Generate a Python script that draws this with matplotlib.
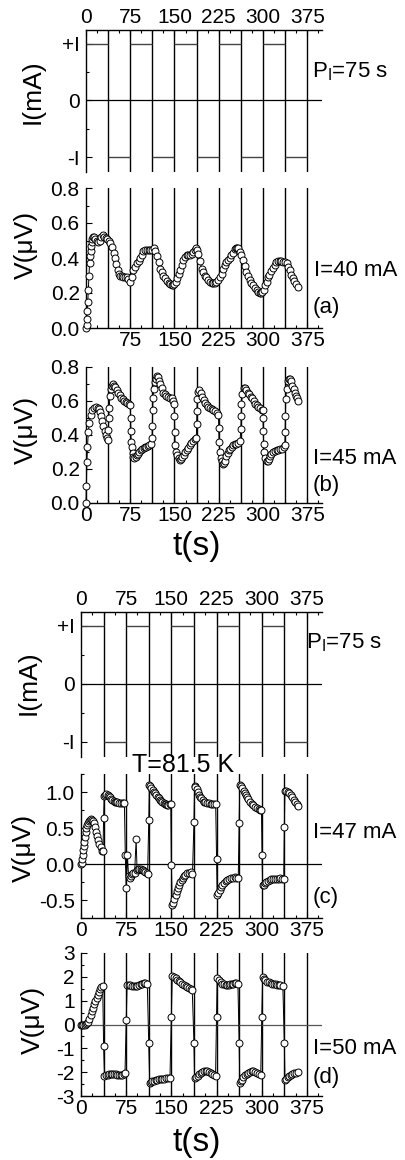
import matplotlib.pyplot as plt
from matplotlib.ticker import MultipleLocator, FixedLocator

plt.rcParams['font.family'] = ['Liberation Sans', 'DejaVu Sans']
plt.rcParams['mathtext.default'] = 'regular'
plt.rcParams['axes.unicode_minus'] = False

# current switching times (half period 37.5 s) and sign of the current
switch_t = [0, 37.5, 75, 112.5, 150, 187.5, 225, 262.5, 300, 337.5, 375]
current_sign = [1, -1, 1, -1, 1, -1, 1, -1, 1, -1]
x_ticks = [0, 75, 150, 225, 300, 375]

# (a) I = 40 mA
t_a = [0, 1, 1.5, 2, 3, 4, 5, 6, 7, 8, 9, 10, 11, 12, 14, 16, 18.5, 21, 23.5, 26, 28.5, 31, 33.5, 36,
       38.5, 41, 44, 47, 49.5, 51.5, 53.5, 56, 58, 61, 63.5, 66.5, 69, 72, 75, 78, 80.5, 83, 86, 89,
       92, 94.5, 97, 100, 103, 106, 109, 112, 115, 117.5, 120, 123, 125.5, 128, 131, 134, 137, 140,
       143, 145, 148, 150, 152.5, 155, 157, 159, 162, 165, 168, 170.5, 173, 176, 179, 182, 184,
       186.5, 188.5, 190.5, 193, 196, 198.5, 201.5, 204, 207, 210, 213, 216, 218.5, 221, 224, 227,
       230, 232.5, 235, 238, 241, 244, 246.5, 249.5, 252, 254, 256, 258, 260.5, 263, 266, 269, 272,
       275, 277.5, 280, 283, 286, 289, 292, 294.5, 297, 299, 301, 303, 306, 308.5, 311, 314, 317,
       320, 322.5, 325, 328, 331, 334, 337, 340.5, 343, 345, 348, 350.5, 353, 356, 359]
v_a = [0.0, 0.02, 0.05, 0.10, 0.15, 0.22, 0.30, 0.37, 0.41, 0.44, 0.47, 0.49, 0.51, 0.52, 0.52, 0.51,
       0.50, 0.49, 0.50, 0.52, 0.53, 0.52, 0.515, 0.51, 0.50, 0.485, 0.465, 0.43, 0.40, 0.365, 0.33,
       0.31, 0.30, 0.295, 0.29, 0.29, 0.29, 0.28, 0.265, 0.29, 0.33, 0.35, 0.37, 0.385, 0.40, 0.42,
       0.44, 0.445, 0.445, 0.445, 0.445, 0.445, 0.455, 0.44, 0.41, 0.375, 0.34, 0.32, 0.30, 0.285,
       0.27, 0.26, 0.25, 0.245, 0.245, 0.25, 0.265, 0.285, 0.31, 0.33, 0.36, 0.39, 0.405, 0.415,
       0.415, 0.42, 0.425, 0.435, 0.445, 0.455, 0.445, 0.425, 0.385, 0.34, 0.32, 0.30, 0.29, 0.275,
       0.265, 0.255, 0.255, 0.26, 0.265, 0.275, 0.29, 0.31, 0.335, 0.36, 0.375, 0.39, 0.40, 0.415,
       0.43, 0.45, 0.455, 0.46, 0.455, 0.435, 0.415, 0.39, 0.355, 0.32, 0.295, 0.275, 0.26, 0.245,
       0.23, 0.217, 0.205, 0.198, 0.20, 0.204, 0.22, 0.245, 0.265, 0.29, 0.305, 0.325, 0.345, 0.36,
       0.375, 0.385, 0.385, 0.385, 0.38, 0.38, 0.37, 0.35, 0.33, 0.305, 0.285, 0.27, 0.25, 0.236]

# (b) I = 45 mA
t_b = [0, 0.5, 1.5, 2.5, 4, 5.5, 8, 11, 14, 17, 19.5, 21.5, 23.5, 25.5, 27.5, 29.5, 31.5, 33.5, 35.5,
       37, 38, 38.5, 39.5, 40.5, 42, 44, 46, 48, 50, 52.5, 55, 57.5, 60, 62.5, 65, 67.5, 70, 72.5, 75,
       75.5, 76, 76.5, 77.5, 79, 80.5, 82, 84, 86, 88, 90, 92.5, 95, 97.5, 100, 102.5, 105, 107.5,
       110, 112, 112.5, 113, 113.5, 115, 116.5, 118, 120, 122, 124, 126, 128.5, 131, 133.5, 136, 139,
       142, 145, 148, 149.5, 150, 150.5, 151, 152.5, 154.5, 157, 159, 161, 163.5, 166, 168.5, 171,
       173.5, 176, 178.5, 181, 184, 187, 187.5, 188, 188.5, 190, 192, 194.5, 197, 199.5, 202, 204.5,
       207, 210, 213, 216, 219, 222, 224.5, 225, 225.5, 226.5, 228, 230, 232, 234, 236, 238, 240,
       242, 244.5, 247, 249.5, 252, 255, 258, 261, 262.5, 263, 263.5, 265, 267, 269.5, 272, 274.5,
       277, 279.5, 282, 284.5, 287, 289.5, 292, 295, 298, 299.5, 300, 300.5, 301, 302, 304, 306, 308,
       310, 312, 314, 317, 320, 323, 326, 329, 332, 335, 337, 337.5, 338, 338.5, 340, 342, 344, 346,
       348, 350, 352, 354, 356, 358, 360]
v_b = [0.0, 0.10, 0.24, 0.33, 0.42, 0.47, 0.52, 0.55, 0.56, 0.565, 0.56, 0.555, 0.535, 0.51, 0.485,
       0.455, 0.425, 0.40, 0.385, 0.37, 0.43, 0.50, 0.56, 0.63, 0.67, 0.69, 0.70, 0.69, 0.68, 0.665,
       0.65, 0.635, 0.62, 0.61, 0.60, 0.595, 0.59, 0.585, 0.575, 0.50, 0.425, 0.36, 0.33, 0.295, 0.27,
       0.265, 0.27, 0.28, 0.29, 0.30, 0.31, 0.32, 0.325, 0.33, 0.33, 0.335, 0.34, 0.35, 0.385, 0.455,
       0.55, 0.62, 0.67, 0.71, 0.73, 0.745, 0.74, 0.72, 0.70, 0.675, 0.65, 0.64, 0.63, 0.625, 0.62,
       0.615, 0.60, 0.585, 0.51, 0.415, 0.34, 0.30, 0.28, 0.265, 0.255, 0.26, 0.27, 0.285, 0.30, 0.31,
       0.325, 0.34, 0.355, 0.365, 0.375, 0.385, 0.465, 0.54, 0.61, 0.655, 0.665, 0.65, 0.625, 0.605,
       0.59, 0.575, 0.565, 0.56, 0.555, 0.55, 0.54, 0.53, 0.52, 0.44, 0.36, 0.30, 0.265, 0.245, 0.23,
       0.235, 0.25, 0.275, 0.295, 0.31, 0.32, 0.33, 0.34, 0.345, 0.35, 0.355, 0.365, 0.435, 0.51,
       0.58, 0.64, 0.675, 0.675, 0.665, 0.65, 0.64, 0.625, 0.615, 0.60, 0.585, 0.575, 0.565, 0.56,
       0.55, 0.545, 0.50, 0.425, 0.35, 0.30, 0.265, 0.245, 0.25, 0.26, 0.275, 0.29, 0.30, 0.305, 0.31,
       0.31, 0.315, 0.32, 0.33, 0.34, 0.415, 0.51, 0.61, 0.67, 0.715, 0.73, 0.73, 0.715, 0.69, 0.67,
       0.65, 0.63, 0.615, 0.60]

# (c) I = 47 mA
t_c = [0, 1, 2, 2.5, 3.2, 4.3, 5.4, 6.5, 7.6, 9, 10.5, 12, 13.5, 15, 17, 18.5, 20, 21.5, 23, 24.8,
       26.4, 28, 30.3, 32.5, 35.3, 36.5, 37.5, 38.5, 40, 42, 44, 46, 48, 50, 52, 54, 56, 58, 60, 63,
       66, 69, 72, 73.5, 75, 77, 79, 81, 83, 85, 87, 89, 91.5, 93, 95, 97, 99, 101, 103, 105, 107,
       109, 110.5, 112.5, 113.5, 115, 117, 119, 121, 123, 125, 127, 129, 131, 133, 135, 137, 139,
       141, 143, 145, 147, 149, 150, 151.5, 153, 155, 157, 159, 161, 163, 165, 167, 169, 171, 173,
       176, 179, 182, 185, 187.5, 188.5, 190, 192, 194, 196, 198, 200, 202, 204, 206, 209, 212, 215,
       218, 221, 223.5, 225, 226, 228, 230, 232, 234, 237, 240, 243, 246, 249, 252, 255, 258, 261,
       262.5, 263.5, 265.5, 268, 270, 272, 274, 276, 278, 280.5, 283, 286, 289, 292, 295, 297.5,
       299.5, 300.5, 301.5, 303, 305, 307.5, 310, 313, 316, 319, 322, 325, 328, 331, 334, 336.5,
       337.5, 338.5, 340.5, 343, 345.5, 348, 350.5, 353, 355.5, 358, 360.5]
v_c = [0.0, 0.01, 0.065, 0.125, 0.195, 0.25, 0.31, 0.38, 0.45, 0.50, 0.54, 0.575, 0.60, 0.61, 0.62,
       0.61, 0.60, 0.565, 0.51, 0.45, 0.39, 0.335, 0.28, 0.23, 0.185, 0.18, 0.64, 0.945, 0.96, 0.97,
       0.965, 0.945, 0.925, 0.90, 0.89, 0.875, 0.865, 0.86, 0.855, 0.85, 0.85, 0.85, 0.85, 0.12,
       -0.34, 0.12, -0.17, -0.19, -0.16, -0.14, -0.13, -0.13, 0.35, -0.08, -0.07, -0.065, -0.07,
       -0.08, -0.09, -0.10, -0.11, -0.13, -0.14, 0.61, 1.10, 1.09, 1.06, 1.03, 1.00, 0.98, 0.955,
       0.93, 0.91, 0.89, 0.87, 0.855, 0.845, 0.835, 0.83, 0.825, 0.825, 0.83, 0.83, -0.01, -0.57,
       -0.54, -0.49, -0.43, -0.38, -0.33, -0.29, -0.25, -0.22, -0.19, -0.17, -0.15, -0.13, -0.12,
       -0.11, -0.14, 0.59, 1.08, 1.065, 1.04, 1.00, 0.96, 0.93, 0.91, 0.885, 0.865, 0.855, 0.85,
       0.845, 0.84, 0.84, 0.835, 0.83, 0.065, -0.43, -0.40, -0.36, -0.315, -0.29, -0.26, -0.24,
       -0.22, -0.21, -0.20, -0.19, -0.185, -0.19, -0.20, 0.565, 1.10, 1.08, 1.05, 1.02, 0.99, 0.96,
       0.935, 0.90, 0.865, 0.84, 0.82, 0.795, 0.775, 0.765, 0.755, 0.75, 0.125, -0.29, -0.29, -0.27,
       -0.25, -0.23, -0.22, -0.215, -0.21, -0.21, -0.21, -0.205, -0.20, -0.21, -0.215, 0.52, 1.02,
       1.01, 1.005, 0.985, 0.96, 0.93, 0.895, 0.86, 0.83, 0.80]

# (d) I = 50 mA
t_d = [0, 2, 4, 6, 8, 10, 12, 14, 16, 18, 20, 22, 24, 26, 28, 30, 32, 34, 36, 37.5, 39, 41.5, 44,
       46.5, 49, 52, 55, 57.5, 60, 63, 66, 68.5, 71, 73, 75, 76.5, 79, 82, 85, 87.8, 90.5, 93.3, 96,
       98.8, 101.5, 104.4, 107, 110, 112.5, 114, 116, 118.2, 121, 123.7, 126.5, 129.3, 132, 134.8,
       137.5, 140.4, 144, 147.6, 150, 151.5, 154, 157, 160, 162.5, 165, 168, 171, 173.5, 176, 179,
       182, 184.6, 187.5, 188.5, 191.2, 193.5, 195.7, 198.5, 201, 204, 206.7, 209.5, 212.2, 215,
       217.8, 220.5, 223.3, 225, 226, 229, 232, 234.8, 237.5, 240, 243, 245.5, 248, 251, 253, 255.4,
       258, 260.4, 262.5, 263.5, 265, 266.8, 269.5, 272, 275, 277.8, 280.6, 283.3, 286, 289, 291.6,
       295, 298.3, 300, 301.5, 303.5, 306, 309, 312, 314.6, 317, 320, 323, 325.6, 328, 331, 335,
       337.5, 338.5, 340.5, 342.8, 345.5, 348.3, 351, 353.8, 357, 360.5]
v_d = [0.0, 0.0, 0.0, 0.0, 0.02, 0.05, 0.12, 0.25, 0.40, 0.55, 0.70, 0.85, 1.0, 1.12, 1.25, 1.38,
       1.48, 1.56, 1.63, -0.9, -2.15, -2.12, -2.10, -2.08, -2.07, -2.06, -2.07, -2.08, -2.10, -2.12,
       -2.11, -2.10, -2.07, -2.03, 0.17, 1.67, 1.66, 1.65, 1.63, 1.62, 1.62, 1.63, 1.65, 1.68, 1.71,
       1.75, 1.75, 1.72, -0.78, -2.44, -2.41, -2.38, -2.35, -2.33, -2.31, -2.30, -2.29, -2.28, -2.27,
       -2.26, -2.26, -2.26, 0.3, 2.04, 1.99, 1.94, 1.88, 1.83, 1.78, 1.72, 1.67, 1.62, 1.58, 1.55,
       1.50, 1.46, -0.78, -2.26, -2.20, -2.14, -2.08, -2.03, -1.99, -1.96, -1.94, -1.96, -2.0, -2.04,
       -2.08, -2.11, -2.14, 0.3, 1.94, 1.86, 1.78, 1.72, 1.69, 1.67, 1.66, 1.67, 1.68, 1.69, 1.72,
       1.74, 1.73, 1.72, -0.78, -2.44, -2.38, -2.33, -2.19, -2.12, -2.06, -2.02, -1.99, -1.97, -1.97,
       -2.0, -2.03, -2.08, -2.12, 0.3, 2.0, 1.9, 1.85, 1.8, 1.77, 1.74, 1.71, 1.69, 1.68, 1.67, 1.66,
       1.65, 1.62, -0.78, -2.33, -2.27, -2.22, -2.17, -2.12, -2.08, -2.05, -2.02, -2.0]

W, H = 406, 1160
fig = plt.figure(figsize=(W / 100, H / 100), dpi=100)


def box(x0, x1, ytop, ybot):
    return [x0 / W, 1 - ybot / H, (x1 - x0) / W, (ybot - ytop) / H]


def ftxt(x, y, s, **kw):
    fig.text(x / W, 1 - y / H, s, **kw)


def style(ax, top=False, xlabels=True, hide_zero=False):
    for side in ['right', 'top', 'bottom']:
        ax.spines[side].set_visible(False)
    ax.spines['top' if top else 'bottom'].set_visible(True)
    for sp in ax.spines.values():
        sp.set_linewidth(1.0)
    ax.set_xlim(0, 400)
    ax.xaxis.set_major_locator(FixedLocator(x_ticks))
    ax.xaxis.set_minor_locator(MultipleLocator(18.75))
    labs = [str(v) for v in x_ticks]
    if hide_zero:
        labs[0] = ''
    ax.set_xticklabels(labs if xlabels else [])
    if top:
        ax.xaxis.tick_top()
    ax.tick_params(axis='both', which='both', direction='in', labelsize=15,
                   right=False)
    ax.tick_params(axis='x', which='both', top=top, bottom=not top, pad=2)
    ax.tick_params(axis='y', which='both', pad=4.5)
    ax.tick_params(which='major', length=4, width=0.8)
    ax.tick_params(which='minor', length=2, width=0.8)
    for x in switch_t[1:]:
        ax.axvline(x, color='black', lw=1.0, zorder=1)


def current_panel(ax):
    for i in range(len(current_sign)):
        ax.hlines(current_sign[i], switch_t[i], switch_t[i + 1], color='#444444', lw=1.0)
    ax.axhline(0, color='black', lw=0.9)
    ax.set_ylim(-1.26, 1.24)
    ax.set_yticks([-1, 0, 1])
    ax.set_yticklabels(['-I', '0', '+I'])
    ax.yaxis.set_minor_locator(MultipleLocator(0.5))


def volt(ax, t, v):
    ax.plot(t, v, '-o', color='black', lw=0.7, ms=5, mfc='white', mec='black',
            mew=0.7, zorder=3, clip_on=False)


# ---- group 1 ----
ax1 = fig.add_axes(box(86, 322, 30, 172))
style(ax1, top=True)
current_panel(ax1)

ax2 = fig.add_axes(box(86, 322, 188, 328))
style(ax2, hide_zero=True)
volt(ax2, t_a, v_a)
ax2.set_ylim(0, 0.8)
ax2.yaxis.set_major_locator(MultipleLocator(0.2))
ax2.yaxis.set_minor_locator(MultipleLocator(0.1))
ax2.yaxis.set_major_formatter('{x:.1f}')

ax3 = fig.add_axes(box(86, 322, 367, 503))
style(ax3)
volt(ax3, t_b, v_b)
ax3.set_ylim(0, 0.8)
ax3.yaxis.set_major_locator(MultipleLocator(0.2))
ax3.yaxis.set_minor_locator(MultipleLocator(0.1))
ax3.yaxis.set_major_formatter('{x:.1f}')

# ---- group 2 ----
ax4 = fig.add_axes(box(81, 322, 612, 757))
style(ax4, top=True)
current_panel(ax4)

ax5 = fig.add_axes(box(81, 322, 774, 918))
style(ax5)
ax5.axhline(0, color='black', lw=0.9)
volt(ax5, t_c, v_c)
ax5.set_ylim(-0.75, 1.25)
ax5.yaxis.set_major_locator(MultipleLocator(0.5))
ax5.yaxis.set_minor_locator(MultipleLocator(0.25))
ax5.yaxis.set_major_formatter('{x:.1f}')

ax6 = fig.add_axes(box(81, 322, 953, 1096))
style(ax6)
ax6.axhline(0, color='#555555', lw=0.9)
volt(ax6, t_d, v_d)
ax6.set_ylim(-3, 3)
ax6.yaxis.set_major_locator(MultipleLocator(1))
ax6.yaxis.set_minor_locator(MultipleLocator(0.5))

# ---- labels ----
lab = dict(rotation=90, ha='center', va='center', fontsize=19)
ftxt(33, 92, 'I(mA)', **lab)
ftxt(26, 245, 'V(\u03bcV)', **lab)
ftxt(26, 430, 'V(\u03bcV)', **lab)
ftxt(29, 683, 'I(mA)', **lab)
ftxt(24, 848, 'V(\u03bcV)', **lab)
ftxt(33, 1020, 'V(\u03bcV)', **lab)

ann = dict(ha='left', va='center', fontsize=16)
ftxt(312, 72, 'P$_I$=75 s', **ann)
ftxt(314, 270, 'I=40 mA', **ann)
ftxt(313, 308, '(a)', **ann)
ftxt(313, 458, 'I=45 mA', **ann)
ftxt(313, 485, '(b)', **ann)
ftxt(306, 643, 'P$_I$=75 s', **ann)
ftxt(313, 832, 'I=47 mA', **ann)
ftxt(313, 897, '(c)', **ann)
ftxt(313, 1048, 'I=50 mA', **ann)
ftxt(313, 1078, '(d)', **ann)
ftxt(183, 765, 'T=81.5 K', ha='center', va='center', fontsize=18)

ftxt(197, 547, 't(s)', ha='center', va='center', fontsize=24)
ftxt(197, 1142, 't(s)', ha='center', va='center', fontsize=24)

fig.savefig('out.png', dpi=100)
